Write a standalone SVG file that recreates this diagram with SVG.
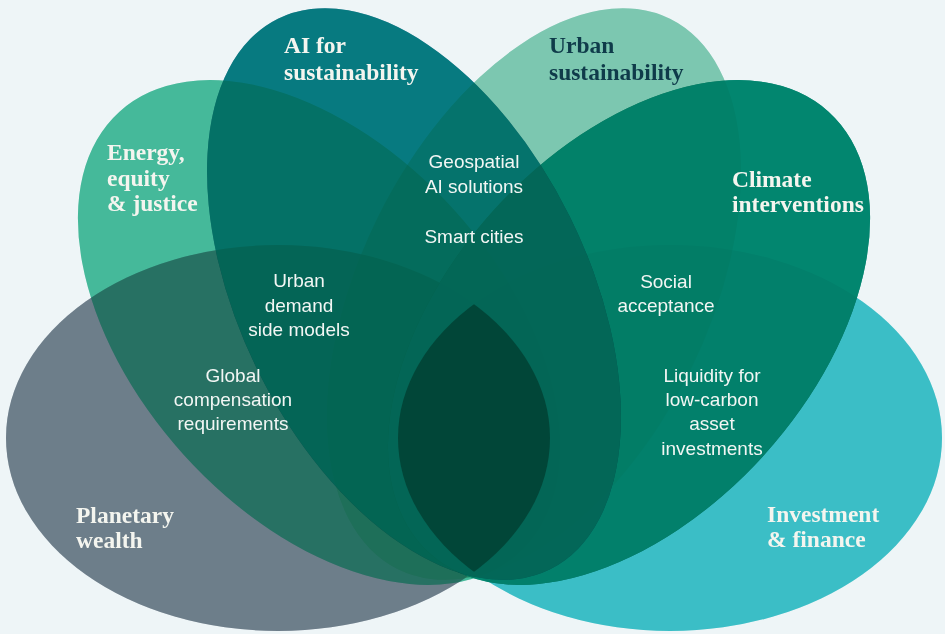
<svg xmlns="http://www.w3.org/2000/svg" width="945" height="634" viewBox="0 0 945 634">
  <style>
    .m { mix-blend-mode: multiply; }
    .t { font-family: "Liberation Serif", "DejaVu Serif", serif; font-weight: bold; font-size: 23.5px; fill: #f4f5ef; }
    .td { fill: #0f3b4a; }
    .l { font-family: "Liberation Sans", Arial, sans-serif; font-size: 19px; fill: #f2f6f4; text-anchor: middle; }
  </style>
  <defs>
    <ellipse id="shape-inv" cx="670" cy="438" rx="272" ry="193"/>
    <clipPath id="clip-inv"><use href="#shape-inv"/></clipPath>
  </defs>
  <rect x="0" y="0" width="945" height="634" fill="#eef5f7"/>

  <g id="planetary-wealth">
    <ellipse class="m" cx="278" cy="438" rx="272" ry="193" fill="#76838f"/>
    <ellipse cx="278" cy="438" rx="272" ry="193" fill="#6e7e8a" opacity="0.3"/>
    <text class="t" x="76" y="523">Planetary</text>
    <text class="t" x="76" y="548">wealth</text>
  </g>

  <g id="investment-finance">
    <ellipse class="m" cx="670" cy="438" rx="272" ry="193" fill="#3fc7cd"/>
    <ellipse cx="670" cy="438" rx="272" ry="193" fill="#3bbfc7" opacity="0.2"/>
    <text class="t" x="767" y="522">Investment</text>
    <text class="t" x="767" y="547">&amp; finance</text>
  </g>

  <g id="urban-sustainability">
    <ellipse class="m" cx="534" cy="294" rx="174" ry="307" transform="rotate(26.3 534 294)" fill="#86cfb6"/>
    <ellipse cx="534" cy="294" rx="174" ry="307" transform="rotate(26.3 534 294)" fill="#7dc7b0" opacity="0.22"/>
    <text class="t td" x="549" y="53">Urban</text>
    <text class="t td" x="549" y="80">sustainability</text>
  </g>

  <g id="energy-equity-justice">
    <ellipse class="m" cx="319" cy="332.5" rx="297.6" ry="182.4" transform="rotate(47.9 319 332.5)" fill="#4ac19f"/>
    <ellipse cx="319" cy="332.5" rx="297.6" ry="182.4" transform="rotate(47.9 319 332.5)" fill="#45b99a" opacity="0.2"/>
    <text class="t" x="107" y="160">Energy,</text>
    <text class="t" x="107" y="186">equity</text>
    <text class="t" x="107" y="211">&amp; justice</text>
  </g>

  <g id="climate-interventions">
    <ellipse class="m" cx="629" cy="332.5" rx="297.6" ry="182.4" transform="rotate(-47.9 629 332.5)" fill="#028b73"/>
    <ellipse cx="629" cy="332.5" rx="297.6" ry="182.4" transform="rotate(-47.9 629 332.5)" fill="#02866f" opacity="0.8"/>
    <text class="t" x="732" y="187">Climate</text>
    <text class="t" x="732" y="212">interventions</text>
  </g>

  <g id="ai-sustainability">
    <ellipse class="m" cx="414" cy="294" rx="174" ry="307" transform="rotate(-26.3 414 294)" fill="#084b84"/>
    <ellipse cx="414" cy="294" rx="174" ry="307" transform="rotate(-26.3 414 294)" fill="#06b980" opacity="0.45"/>
    <text class="t" x="284" y="53">AI for</text>
    <text class="t" x="284" y="80">sustainability</text>
  </g>

  <g id="overlap-core">
    <ellipse cx="278" cy="438" rx="272" ry="193" fill="#001a10" opacity="0.42" clip-path="url(#clip-inv)"/>
  </g>

  <g id="region-labels">
    <text class="l" x="474" y="168">Geospatial</text>
    <text class="l" x="474" y="193">AI solutions</text>
    <text class="l" x="474" y="243">Smart cities</text>
    <text class="l" x="299" y="287">Urban</text>
    <text class="l" x="299" y="312">demand</text>
    <text class="l" x="299" y="336">side models</text>
    <text class="l" x="666" y="288">Social</text>
    <text class="l" x="666" y="312">acceptance</text>
    <text class="l" x="233" y="382">Global</text>
    <text class="l" x="233" y="406">compensation</text>
    <text class="l" x="233" y="430">requirements</text>
    <text class="l" x="712" y="382">Liquidity for</text>
    <text class="l" x="712" y="406">low-carbon</text>
    <text class="l" x="712" y="430">asset</text>
    <text class="l" x="712" y="455">investments</text>
  </g>
</svg>
